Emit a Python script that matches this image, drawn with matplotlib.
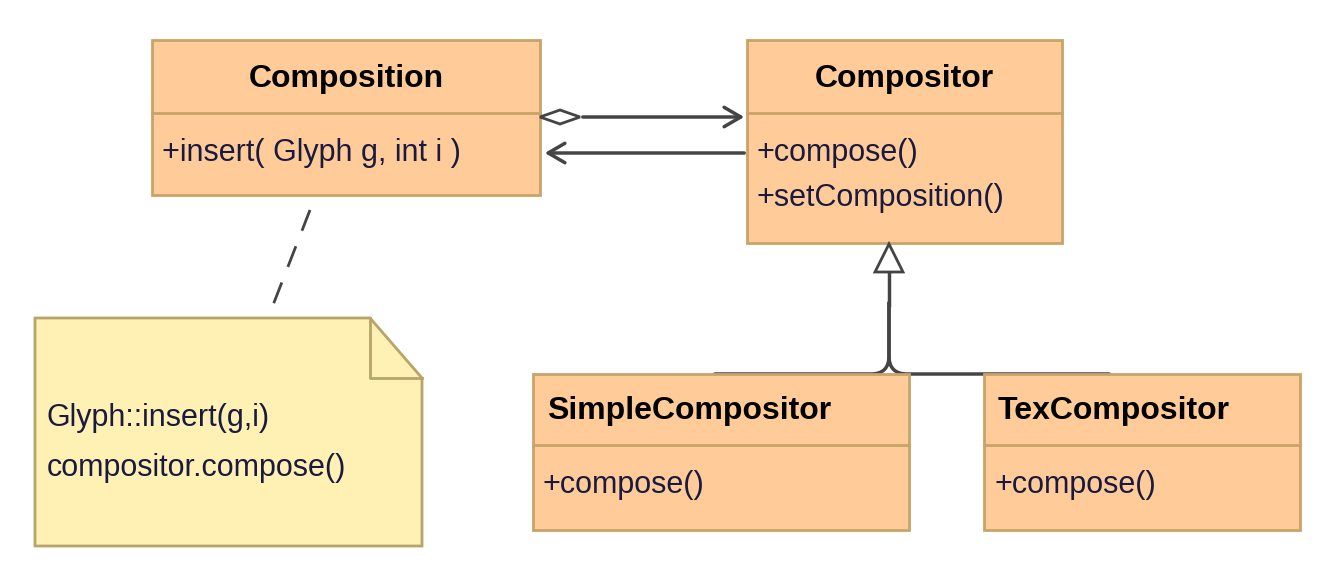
import matplotlib.pyplot as plt
from matplotlib.patches import Rectangle, Polygon, FancyArrowPatch

plt.rcParams['font.family'] = ['Liberation Sans', 'DejaVu Sans']

class_names = ["Composition", "Compositor", "SimpleCompositor", "TexCompositor"]
class_ops = [["+insert( Glyph g, int i )"],
             ["+compose()", "+setComposition()"],
             ["+compose()"],
             ["+compose()"]]
# left, top, right, bottom, divider
class_boxes = [(152, 40, 540, 195, 113),
               (747, 40, 1062, 243, 113),
               (533, 374, 909, 530, 445),
               (984, 374, 1300, 530, 445)]
note_lines = ["Glyph::insert(g,i)", "compositor.compose()"]

fill = "#FFCC99"
edge = "#C8A468"
ink = "#1A1A40"
line_c = "#444444"

fig = plt.figure(figsize=(13.35, 5.87), dpi=100)
ax = fig.add_axes([0, 0, 1, 1])
ax.set_xlim(0, 1335)
ax.set_ylim(587, 0)
ax.axis('off')

for name, ops, (l, t, r, b, d) in zip(class_names, class_ops, class_boxes):
    ax.add_patch(Rectangle((l, t), r - l, b - t, fc=fill, ec=edge, lw=2, zorder=2))
    ax.plot([l, r], [d, d], color=edge, lw=2, zorder=3)
    if l > 500 and t > 300:
        ax.text(l + 14, (t + d) / 2 + 2, name, fontsize=23, fontweight='bold',
                ha='left', va='center', zorder=4)
    else:
        ax.text((l + r) / 2, (t + d) / 2 + 2, name, fontsize=23, fontweight='bold',
                ha='center', va='center', zorder=4)
    for i, op in enumerate(ops):
        ax.text(l + 10, d + 40 + i * 45, op, fontsize=22, color=ink,
                ha='left', va='center', zorder=4)

# note
nl, nt, nr, nb, fold = 35, 318, 422, 546, 52
ax.add_patch(Polygon([(nl, nt), (nr - fold, nt), (nr, nt + fold + 8), (nr, nb), (nl, nb)],
                     closed=True, fc="#FFF0B4", ec="#B8A468", lw=2, zorder=2))
ax.plot([nr - fold, nr - fold, nr], [nt, nt + fold + 8, nt + fold + 8], color="#B8A468", lw=2, zorder=3)
for i, s in enumerate(note_lines):
    ax.text(nl + 12, 418 + i * 50, s, fontsize=22, color=ink, ha='left', va='center', zorder=4)
ax.plot([310, 268], [210, 318], color=line_c, lw=2, ls=(0, (8, 6)), zorder=1)

# aggregation: diamond at Composition, arrow at Compositor
ax.add_patch(Polygon([(540, 117), (560, 110), (580, 117), (560, 124)], closed=True,
                     fc="white", ec=line_c, lw=2, zorder=3))
ax.add_patch(FancyArrowPatch((580, 117), (747, 117), arrowstyle='->,head_length=12,head_width=7',
                             color=line_c, lw=2.5, zorder=3))
ax.add_patch(FancyArrowPatch((747, 153), (542, 153), arrowstyle='->,head_length=12,head_width=7',
                             color=line_c, lw=2.5, zorder=3))

# generalization
ax.add_patch(Polygon([(889, 244), (875, 272), (903, 272)], closed=True,
                     fc="white", ec=line_c, lw=2, zorder=3))
ax.plot([889, 889], [272, 305], color=line_c, lw=2.5)
ax.add_patch(FancyArrowPatch((889, 300), (712, 374), connectionstyle="angle,angleA=-90,angleB=180,rad=18",
                             arrowstyle='-', color=line_c, lw=2.5))
ax.add_patch(FancyArrowPatch((889, 300), (1112, 374), connectionstyle="angle,angleA=-90,angleB=0,rad=18",
                             arrowstyle='-', color=line_c, lw=2.5))

fig.savefig("out.png", dpi=100, facecolor="white")
